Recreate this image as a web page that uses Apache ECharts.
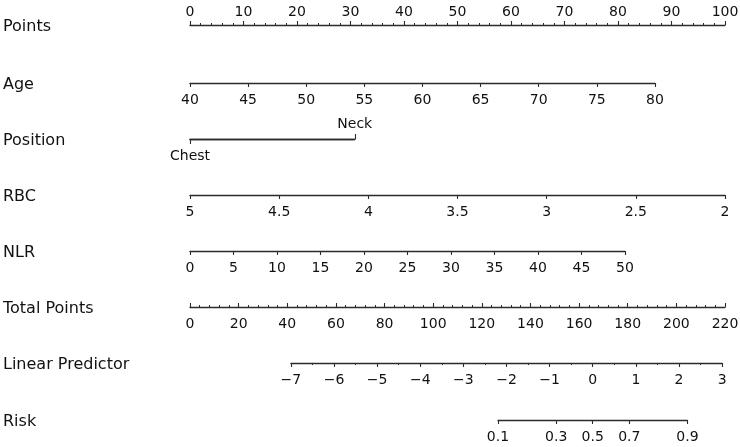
<!DOCTYPE html>
<html>
<head>
<meta charset="UTF-8">
<title>Nomogram</title>
<script src="https://cdn.jsdelivr.net/npm/echarts@6/dist/echarts.min.js"></script>
<style>
html,body{margin:0;padding:0;background:#fff;}
#chart{width:740px;height:447px;}
</style>
</head>
<body>
<div id="chart"></div>
<script>
// --- data ---
var rowNames = ['Points', 'Age', 'Position', 'RBC', 'NLR', 'Total Points', 'Linear Predictor', 'Risk'];
var pointsRange = [0, 100];
var ageRange = [40, 80];
var agePoints = [0, 86.9];          // points given to age 40 and age 80
var positionLevels = ['Chest', 'Neck'];
var positionPoints = [0, 30.8];
var rbcRange = [5, 2];
var rbcPoints = [0, 100];
var nlrRange = [0, 50];
var nlrPoints = [0, 81.3];
var totalRange = [0, 220];
var lpRange = [-7, 3];
var lpTotalPoints = [41.5, 218.8];  // total points at lp -7 and lp 3
var riskTicks = [0.1, 0.3, 0.5, 0.7, 0.9];

// --- layout ---
var X0 = 190, X1 = 725;
var rowY = [25, 83, 139, 195, 251, 307, 363, 420];
var lineColor = '#2b2b2b';
var font = 'DejaVu Sans, sans-serif';

function pxPoints(p){ return X0 + (p - pointsRange[0]) / (pointsRange[1] - pointsRange[0]) * (X1 - X0); }
function pxTotal(t){ return X0 + (t - totalRange[0]) / (totalRange[1] - totalRange[0]) * (X1 - X0); }
function pxLp(lp){
  var t = lpTotalPoints[0] + (lp - lpRange[0]) / (lpRange[1] - lpRange[0]) * (lpTotalPoints[1] - lpTotalPoints[0]);
  return pxTotal(t);
}
function logit(p){ return Math.log(p / (1 - p)); }

var grids = [], xAxes = [], yAxes = [], graphics = [];

function addRow(a, b, y, side, axis){
  var gi = grids.length;
  grids.push({left: a, width: b - a, top: side === 'top' ? y : y - 20, height: 20,
              containLabel: false, outerBoundsMode: 'none'});
  yAxes.push({gridIndex: gi, type: 'value', show: false, min: 0, max: 1});
  var base = {
    gridIndex: gi, type: 'value', position: side,
    splitLine: {show: false},
    axisLine: {show: true, onZero: false, lineStyle: {color: lineColor, width: 1.3}},
    axisTick: {show: true, length: 4, lineStyle: {color: lineColor, width: 1.1}},
    axisLabel: {show: true, color: '#111', fontSize: 14, fontFamily: font,
                margin: side === 'top' ? 6 : 10, showMinLabel: true, showMaxLabel: true, hideOverlap: false}
  };
  for (var k in axis){
    if (typeof axis[k] === 'object' && base[k] && !Array.isArray(axis[k])) base[k] = Object.assign({}, base[k], axis[k]);
    else base[k] = axis[k];
  }
  xAxes.push(base);
}

// Points
addRow(pxPoints(0), pxPoints(100), rowY[0], 'top', {
  min: pointsRange[0], max: pointsRange[1], interval: 10,
  minorTick: {show: true, splitNumber: 5, length: 2, lineStyle: {color: lineColor, width: 1}}
});
// Age
addRow(pxPoints(agePoints[0]), pxPoints(agePoints[1]), rowY[1], 'bottom', {
  min: ageRange[0], max: ageRange[1], interval: 5
});
// Position (two axes: Chest below, Neck above)
addRow(pxPoints(positionPoints[0]), pxPoints(positionPoints[1]), rowY[2], 'bottom', {
  min: 0, max: 1,
  axisTick: {customValues: [0], length: 5},
  axisLabel: {customValues: [0], formatter: function(v){ return positionLevels[Math.round(v)]; }}
});
addRow(pxPoints(positionPoints[0]), pxPoints(positionPoints[1]), rowY[2], 'top', {
  min: 0, max: 1,
  axisTick: {customValues: [1], length: 5},
  axisLabel: {customValues: [1], margin: 8, formatter: function(v){ return positionLevels[Math.round(v)]; }}
});
// RBC
addRow(pxPoints(rbcPoints[0]), pxPoints(rbcPoints[1]), rowY[3], 'bottom', {
  min: rbcRange[1], max: rbcRange[0], interval: 0.5, inverse: true
});
// NLR
addRow(pxPoints(nlrPoints[0]), pxPoints(nlrPoints[1]), rowY[4], 'bottom', {
  min: nlrRange[0], max: nlrRange[1], interval: 5
});
// Total Points
addRow(pxTotal(totalRange[0]), pxTotal(totalRange[1]), rowY[5], 'bottom', {
  min: totalRange[0], max: totalRange[1], interval: 20,
  axisTick: {inside: true},
  minorTick: {show: true, splitNumber: 5, length: 2, lineStyle: {color: lineColor, width: 1}}
});
// Linear Predictor
addRow(pxLp(lpRange[0]), pxLp(lpRange[1]), rowY[6], 'bottom', {
  min: lpRange[0], max: lpRange[1], interval: 1,
  minorTick: {show: true, splitNumber: 2, length: 2, lineStyle: {color: lineColor, width: 1}},
  axisLabel: {formatter: function(v){ return String(v).replace('-', '\u2212'); }}
});
// Risk
var riskLp = riskTicks.map(logit);
addRow(pxLp(riskLp[0]), pxLp(riskLp[riskLp.length - 1]), rowY[7], 'bottom', {
  min: riskLp[0], max: riskLp[riskLp.length - 1],
  axisTick: {customValues: riskLp},
  axisLabel: {customValues: riskLp, formatter: function(v){
    return (Math.round(10 / (1 + Math.exp(-v))) / 10).toFixed(1);
  }}
});

// row names
rowNames.forEach(function(name, i){
  graphics.push({type: 'text', left: 3, top: rowY[i] - 6,
    style: {text: name, fontSize: 16, fontFamily: font, fill: '#111'}});
});

var myChart = echarts.init(document.getElementById('chart'));
myChart.setOption({
  animation: false,
  backgroundColor: '#fff',
  grid: grids,
  xAxis: xAxes,
  yAxis: yAxes,
  graphic: graphics,
  series: []
});
</script>
</body>
</html>
